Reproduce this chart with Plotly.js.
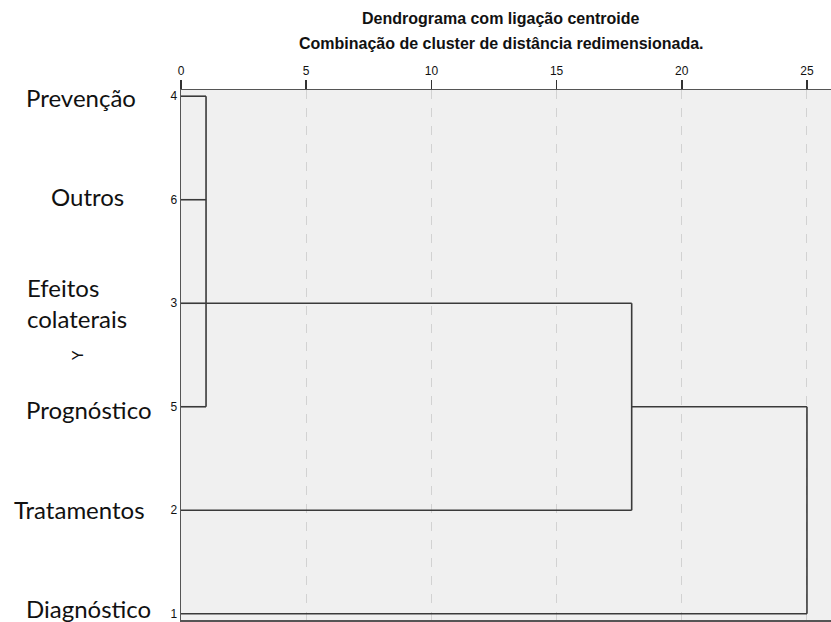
<!DOCTYPE html>
<html><head><meta charset="utf-8">
<script src="https://cdn.plot.ly/plotly-3.0.1.min.js"></script>
<style>html,body{margin:0;padding:0;background:#fff}#chart{width:831px;height:622px}</style>
</head><body><div id="chart"></div>
<script>
// leaf case numbers in display order (top to bottom)
const leafIds = ['4','6','3','5','2','1'];
const leafNames = ['Prevenção','Outros','Efeitos<br>colaterais','Prognóstico','Tratamentos','Diagnóstico'];
// merge steps: children (L = leaf index, N = node index), rescaled distance, display row of the new cluster
const nodeChildren = [[['L',0],['L',1],['L',2],['L',3]], [['N',0],['L',4]], [['N',1],['L',5]]];
const nodeHeight = [1.0, 18.0, 25.0];
const nodeRow = [2, 3, 4];
const xTicks = [0,5,10,15,20,25];

const sx = [], sy = [];
nodeChildren.forEach((ch, k) => {
  const h = nodeHeight[k];
  const rows = [];
  ch.forEach(([t, i]) => {
    const r = t === 'L' ? i : nodeRow[i];
    const x0 = t === 'L' ? 0 : nodeHeight[i];
    rows.push(r);
    sx.push(x0, h, null); sy.push(r, r, null);
  });
  sx.push(h, h, null); sy.push(Math.min(...rows), Math.max(...rows), null);
});

const traces = [{
  x: sx, y: sy, type: 'scatter', mode: 'lines', hoverinfo: 'skip',
  line: {color: '#3a3a3a', width: 1.6}, showlegend: false, cliponaxis: false
}];

const ann = [];
const nameX = [81, 87, 25, 89, 79, 88];
const nameAnchor = ['center','center','left','center','center','center'];
const nameDy = [1, -3, 0, 3, -1, -5];
leafNames.forEach((n, i) => {
  ann.push({xref: 'paper', yref: 'y', x: 0, y: i, xshift: nameX[i] - 181, yshift: -nameDy[i],
    text: n, showarrow: false, xanchor: nameAnchor[i], align: 'left',
    font: {family: 'Lato, Carlito, sans-serif', size: 24, color: '#111'}});
});
ann.push({xref: 'paper', yref: 'y', x: 0, y: 2.5, xshift: 66 - 181, yshift: 0, text: 'Y', textangle: -90,
  showarrow: false, font: {family: 'Lato, sans-serif', size: 15, color: '#111'}});
ann.push({xref: 'paper', yref: 'paper', x: 0, xshift: 501 - 181, y: 1, yshift: 72, yanchor: 'middle', xanchor: 'center',
  text: '<b>Dendrograma com ligação centroide</b>',
  showarrow: false, font: {family: 'Liberation Sans, Arial, sans-serif', size: 16, color: '#111'}});
ann.push({xref: 'paper', yref: 'paper', x: 0, xshift: 501 - 181, y: 1, yshift: 47, yanchor: 'middle', xanchor: 'center',
  text: '<b>Combinação de cluster de distância redimensionada.</b>',
  showarrow: false, font: {family: 'Liberation Sans, Arial, sans-serif', size: 16, color: '#111'}});

const layout = {
  width: 831, height: 622,
  margin: {l: 181, r: 0, t: 90, b: 2},
  paper_bgcolor: '#ffffff', plot_bgcolor: '#f0f0f0',
  xaxis: {range: [0, 25.96], side: 'top', tickvals: xTicks, ticks: 'outside', ticklen: 9, tickcolor: '#333',
    tickwidth: 1.5, showline: true, mirror: true, linecolor: '#555', linewidth: 1.5,
    showgrid: true, gridcolor: '#d2d2d2', griddash: 'dash', gridwidth: 1, zeroline: false,
    tickfont: {family: 'Liberation Sans, Arial, sans-serif', size: 12, color: '#111'}, fixedrange: true},
  yaxis: {range: [5.06, -0.06], tickvals: [0,1,2,3,4,5], ticktext: leafIds, ticks: '', showgrid: false,
    zeroline: false, showline: true, mirror: true, linecolor: '#555', linewidth: 1.5, ticklabelstandoff: 0,
    tickfont: {family: 'Liberation Sans, Arial, sans-serif', size: 12, color: '#111'}, fixedrange: true},
  annotations: ann
};
Plotly.newPlot('chart', traces, layout, {displayModeBar: false, staticPlot: true});
</script></body></html>
